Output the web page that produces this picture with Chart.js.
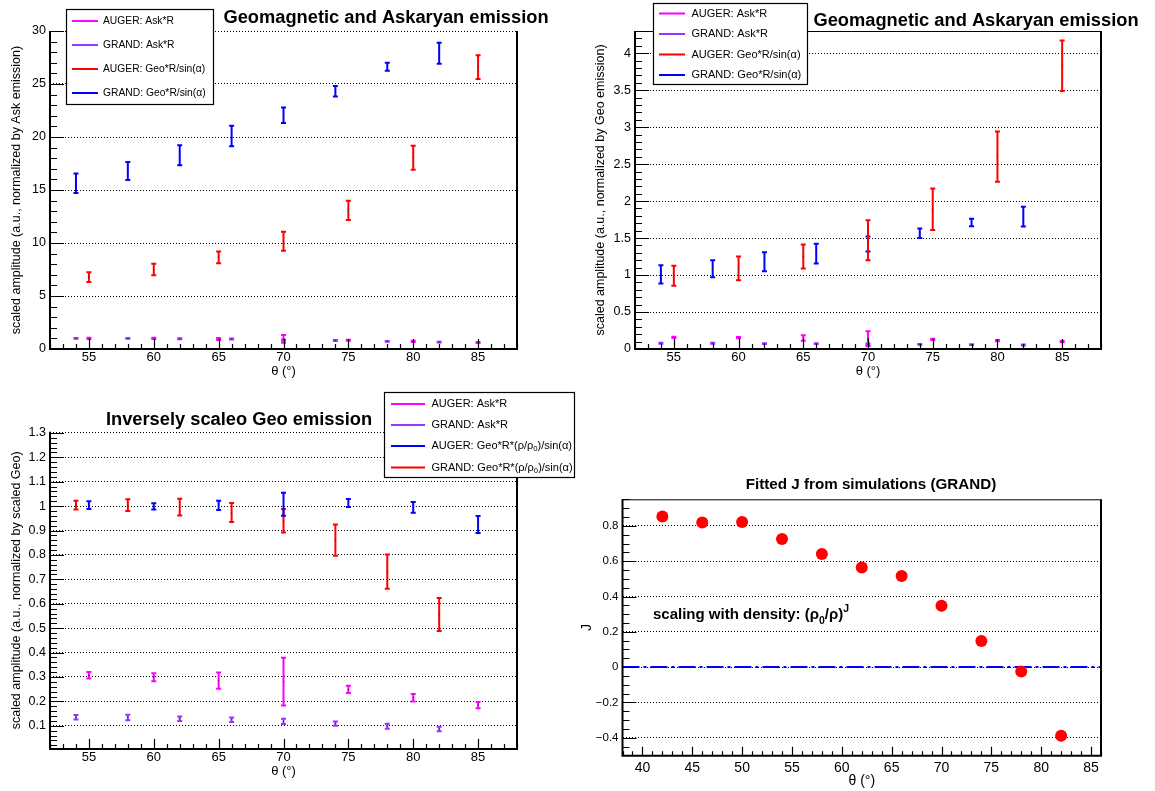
<!DOCTYPE html>
<html>
<head>
<meta charset="utf-8">
<script src="https://cdn.jsdelivr.net/npm/chart.js@4.4.0/dist/chart.umd.min.js"></script>
<style>
html, body { margin: 0; padding: 0; background: #fff; }
body { width: 1155px; height: 791px; position: relative; overflow: hidden; }
canvas { position: absolute; }
</style>
</head>
<body>
<canvas id="c1" width="577" height="385" style="left:0px;top:0px"></canvas>
<canvas id="c2" width="577" height="385" style="left:578px;top:0px"></canvas>
<canvas id="c3" width="577" height="406" style="left:0px;top:385px"></canvas>
<canvas id="c4" width="577" height="406" style="left:578px;top:385px"></canvas>
<script>
// zenith angles
const thetaAuger = [55, 60, 65, 70, 75, 80, 85];
const thetaGrand = [54, 58, 62, 66, 70, 74, 78, 82];
const thetaFit = [42, 46, 50, 54, 58, 62, 66, 70, 74, 78, 82];

// panel 1 : normalized by Ask emission
const askAugerP1 = [1.00, 1.00, 0.94, 0.95, 0.82, 0.73, 0.62];
const askAugerP1Err = [0.05, 0.05, 0.10, 0.36, 0.05, 0.06, 0.05];
const askGrandP1 = [1.00, 1.00, 0.97, 0.94, 0.85, 0.80, 0.72, 0.65];
const askGrandP1Err = [0.04, 0.04, 0.04, 0.04, 0.05, 0.04, 0.04, 0.04];
const geoAugerP1 = [6.78, 7.50, 8.65, 10.17, 13.08, 18.05, 26.60];
const geoAugerP1Err = [0.45, 0.54, 0.55, 0.90, 0.91, 1.13, 1.12];
const geoGrandP1 = [15.63, 16.80, 18.28, 20.09, 22.06, 24.32, 26.62, 27.90];
const geoGrandP1Err = [0.92, 0.85, 0.95, 0.96, 0.73, 0.49, 0.38, 1.00];

// panel 2 : normalized by Geo emission
const askAugerP2 = [0.158, 0.153, 0.149, 0.140, 0.131, 0.113, 0.099];
const askAugerP2Err = [0.008, 0.008, 0.037, 0.100, 0.008, 0.008, 0.008];
const askGrandP2 = [0.077, 0.077, 0.072, 0.072, 0.068, 0.063, 0.059, 0.054];
const askGrandP2Err = [0.006, 0.006, 0.006, 0.006, 0.006, 0.006, 0.006, 0.006];
const geoAugerP2 = [0.99, 1.09, 1.25, 1.47, 1.89, 2.60, 3.83];
const geoAugerP2Err = [0.135, 0.160, 0.163, 0.270, 0.280, 0.340, 0.340];
const geoGrandP2 = [1.01, 1.085, 1.18, 1.29, 1.42, 1.565, 1.71, 1.79];
const geoGrandP2Err = [0.124, 0.115, 0.127, 0.133, 0.100, 0.063, 0.050, 0.135];

// panel 3 : inversely scaled Geo
const askAugerP3 = [0.307, 0.299, 0.285, 0.281, 0.249, 0.215, 0.185];
const askAugerP3Err = [0.013, 0.016, 0.033, 0.098, 0.015, 0.015, 0.013];
const askGrandP3 = [0.135, 0.134, 0.129, 0.125, 0.118, 0.109, 0.098, 0.087];
const askGrandP3Err = [0.009, 0.011, 0.009, 0.009, 0.011, 0.009, 0.010, 0.009];
const geoAugerP3 = [1.004, 0.999, 1.003, 1.008, 1.013, 0.995, 0.925];
const geoAugerP3Err = [0.016, 0.013, 0.019, 0.047, 0.016, 0.022, 0.035];
const geoGrandP3 = [1.004, 1.004, 0.996, 0.974, 0.940, 0.861, 0.732, 0.556];
const geoGrandP3Err = [0.018, 0.024, 0.034, 0.039, 0.048, 0.064, 0.070, 0.068];

// panel 4 : fitted J
const fittedJ = [0.853, 0.819, 0.823, 0.726, 0.641, 0.564, 0.517, 0.348, 0.148, -0.025, -0.389];
const zeroLineX = [38, 86];
const zeroLineY = [0, 0];

// legends / titles
const legendP1 = ['AUGER: Ask*R', 'GRAND: Ask*R', 'AUGER: Geo*R/sin(α)', 'GRAND: Geo*R/sin(α)'];
const legendP3 = ['AUGER: Ask*R', 'GRAND: Ask*R', 'AUGER: Geo*R*(ρ/ρ_{0})/sin(α)', 'GRAND: Geo*R*(ρ/ρ_{0})/sin(α)'];

const MAGENTA = '#ff00ff';
const VIOLET = '#9933ff';
const RED = '#ff0000';
const BLUE = '#0000ff';

Chart.defaults.font.family = '"Liberation Sans", Arial, Helvetica, sans-serif';
Chart.defaults.color = '#000';

function errSeries(label, xs, ys, es, color) {
  return {
    label: label,
    data: xs.map((x, i) => ({x: x, y: ys[i]})),
    yErr: es,
    borderColor: color,
    backgroundColor: color,
    pointRadius: 0,
    showLine: false
  };
}

// text with ROOT style _{sub} and ^{sup}
function drawRich(ctx, str, x, y, size, bold, align) {
  const parts = str.split(/(_\{[^}]*\}|\^\{[^}]*\})/).filter(s => s.length);
  const w = bold ? 'bold ' : '';
  const fam = Chart.defaults.font.family;
  const segs = parts.map(p => {
    if (p.startsWith('_{')) return {t: p.slice(2, -1), s: size * 0.7, dy: size * 0.3};
    if (p.startsWith('^{')) return {t: p.slice(2, -1), s: size * 0.7, dy: -size * 0.45};
    return {t: p, s: size, dy: 0};
  });
  let total = 0;
  segs.forEach(sg => { ctx.font = w + sg.s + 'px ' + fam; sg.w = ctx.measureText(sg.t).width; total += sg.w; });
  let cx = align === 'center' ? x - total / 2 : x;
  ctx.textAlign = 'left';
  segs.forEach(sg => {
    ctx.font = w + sg.s + 'px ' + fam;
    ctx.fillText(sg.t, cx, y + sg.dy);
    cx += sg.w;
  });
}

const errorBars = {
  id: 'errorBars',
  afterDatasetsDraw(chart) {
    const ctx = chart.ctx;
    const xs = chart.scales.x, ys = chart.scales.y;
    ctx.save();
    for (let i = chart.data.datasets.length - 1; i >= 0; i--) {
      const ds = chart.data.datasets[i];
      if (!ds.yErr) continue;
      ds.data.forEach((p, j) => {
        const e = ds.yErr[j];
        const px = xs.getPixelForValue(p.x);
        const y1 = ys.getPixelForValue(p.y - e);
        const y2 = ys.getPixelForValue(p.y + e);
        const yc = ys.getPixelForValue(p.y);
        ctx.strokeStyle = ds.borderColor;
        ctx.lineWidth = 2;
        ctx.beginPath();
        ctx.moveTo(px, y1); ctx.lineTo(px, y2);
        ctx.moveTo(px - 2.5, y1); ctx.lineTo(px + 2.5, y1);
        ctx.moveTo(px - 2.5, y2); ctx.lineTo(px + 2.5, y2);
        ctx.stroke();
        ctx.fillStyle = '#222';
        ctx.fillRect(px - 0.5, yc - 0.5, 1, 1);
      });
    }
    ctx.restore();
  }
};

// ROOT like frame with inward ticks
const rootFrame = {
  id: 'rootFrame',
  afterDraw(chart, args, o) {
    const ctx = chart.ctx;
    const {left, right, top, bottom} = chart.chartArea;
    const xs = chart.scales.x, ys = chart.scales.y;
    ctx.save();
    ctx.strokeStyle = '#000';
    ctx.lineWidth = 1.2;
    ctx.beginPath();
    const eps = 1e-6;
    for (let k = Math.ceil(xs.min / o.xMinor - eps); k * o.xMinor <= xs.max + eps; k++) {
      const v = k * o.xMinor;
      const major = Math.abs(v / o.xMajor - Math.round(v / o.xMajor)) < 1e-6;
      const px = Math.round(xs.getPixelForValue(v)) + 0.5;
      ctx.moveTo(px, bottom);
      ctx.lineTo(px, bottom - (major ? o.xMajorLen : o.xMinorLen));
    }
    for (let k = Math.ceil(ys.min / o.yMinor - eps); k * o.yMinor <= ys.max + eps; k++) {
      const v = k * o.yMinor;
      const major = Math.abs(v / o.yMajor - Math.round(v / o.yMajor)) < 1e-6;
      const py = Math.round(ys.getPixelForValue(v)) + 0.5;
      ctx.moveTo(left, py);
      ctx.lineTo(left + (major ? o.yMajorLen : o.yMinorLen), py);
    }
    ctx.stroke();
    ctx.lineWidth = 2;
    ctx.beginPath();
    ctx.moveTo(left, top); ctx.lineTo(left, bottom); ctx.lineTo(right, bottom); ctx.lineTo(right, top);
    ctx.stroke();
    if (o.top) {
      ctx.lineWidth = 1;
      ctx.beginPath();
      ctx.moveTo(left, top + 0.5); ctx.lineTo(right, top + 0.5);
      ctx.stroke();
    }
    ctx.restore();
  }
};

// titles, legends, annotations
const rootText = {
  id: 'rootText',
  afterDraw(chart, args, o) {
    const ctx = chart.ctx;
    ctx.save();
    ctx.fillStyle = '#000';
    ctx.textBaseline = 'alphabetic';
    if (o.title) drawRich(ctx, o.title.text, o.title.x, o.title.y, o.title.size, true, 'center');
    if (o.note) drawRich(ctx, o.note.text, o.note.x, o.note.y, o.note.size, true, 'left');
    if (o.legend) {
      const L = o.legend;
      ctx.fillStyle = '#fff';
      ctx.fillRect(L.box[0], L.box[1], L.box[2] - L.box[0], L.box[3] - L.box[1]);
      ctx.strokeStyle = '#000';
      ctx.lineWidth = 1.2;
      ctx.strokeRect(L.box[0] + 0.5, L.box[1] + 0.5, L.box[2] - L.box[0], L.box[3] - L.box[1]);
      L.labels.forEach((lab, i) => {
        const y = L.rows[i];
        ctx.strokeStyle = L.colors[i];
        ctx.lineWidth = L.lineW;
        ctx.beginPath();
        ctx.moveTo(L.line[0], y); ctx.lineTo(L.line[1], y);
        ctx.stroke();
        ctx.fillStyle = '#000';
        ctx.textBaseline = 'middle';
        drawRich(ctx, lab, L.textX, y, L.size, false, 'left');
      });
    }
    ctx.restore();
  }
};

function fmt(v) {
  return String(parseFloat(v.toFixed(3))).replace('-', '\u2212');
}

// ticks only on multiples of the step, ROOT style
function stepTicks(step) {
  return scale => {
    const out = [];
    for (let k = Math.ceil(scale.min / step - 1e-6); k * step <= scale.max + 1e-6; k++) {
      out.push({value: parseFloat((k * step).toFixed(4))});
    }
    scale.ticks = out;
  };
}

function makeOptions(c) {
  return {
    responsive: false,
    animation: false,
    events: [],
    layout: {padding: {left: 0, top: c.top, right: c.right, bottom: 0}},
    plugins: {
      legend: {display: false},
      title: {display: false},
      tooltip: {enabled: false},
      rootFrame: c.frame,
      rootText: c.text
    },
    scales: {
      x: {
        type: 'linear', min: c.xMin, max: c.xMax,
        afterBuildTicks: stepTicks(5),
        afterFit: s => { s.height = c.xH; },
        grid: {display: false, drawTicks: false},
        border: {display: false},
        ticks: {padding: c.xTickPad, maxRotation: 0, autoSkip: false,
                font: {size: c.xTickSize}, color: '#000', callback: fmt},
        title: {display: true, text: 'θ (°)', color: '#000', font: {size: c.xTitleSize},
                padding: {top: 0, bottom: c.xTitlePad}}
      },
      y: {
        type: 'linear', min: c.yMin, max: c.yMax,
        afterBuildTicks: stepTicks(c.yStep),
        afterFit: s => { s.width = c.yW; },
        grid: {color: '#000', lineWidth: 1, drawTicks: false},
        border: {display: false, dash: [1, 2]},
        ticks: {padding: 4, autoSkip: false,
                font: {size: c.yTickSize}, color: '#000', callback: fmt},
        title: {display: true, text: c.yTitle, color: '#000', font: {size: c.yTitleSize},
                padding: {top: c.yTitlePad, bottom: 0}}
      }
    }
  };
}

// panel 1
new Chart(document.getElementById('c1'), {
  type: 'scatter',
  data: {datasets: [
    errSeries(legendP1[0], thetaAuger, askAugerP1, askAugerP1Err, MAGENTA),
    errSeries(legendP1[1], thetaGrand, askGrandP1, askGrandP1Err, VIOLET),
    errSeries(legendP1[2], thetaAuger, geoAugerP1, geoAugerP1Err, RED),
    errSeries(legendP1[3], thetaGrand, geoGrandP1, geoGrandP1Err, BLUE)
  ]},
  options: makeOptions({
    top: 31, right: 60, xH: 36, yW: 50,
    xMin: 52, xMax: 88, yMin: 0, yMax: 30, yStep: 5,
    xTickPad: 1, xTickSize: 13, xTitleSize: 13, xTitlePad: 6,
    yTickSize: 12.5, yTitleSize: 12.5, yTitlePad: 9,
    yTitle: 'scaled amplitude (a.u., normalized by Ask emission)',
    frame: {xMinor: 1, xMajor: 5, yMinor: 1, yMajor: 5, xMajorLen: 10, xMinorLen: 5, yMajorLen: 14, yMinorLen: 7, top: false},
    text: {
      title: {text: 'Geomagnetic and Askaryan emission', x: 386, y: 23, size: 18.3},
      legend: {box: [66, 9, 213, 104], rows: [21, 45, 69, 93], line: [72, 98], textX: 103, size: 10.3, lineW: 2,
               labels: legendP1, colors: [MAGENTA, VIOLET, RED, BLUE]}
    }
  }),
  plugins: [errorBars, rootFrame, rootText]
});

// panel 2
new Chart(document.getElementById('c2'), {
  type: 'scatter',
  data: {datasets: [
    errSeries(legendP1[0], thetaAuger, askAugerP2, askAugerP2Err, MAGENTA),
    errSeries(legendP1[1], thetaGrand, askGrandP2, askGrandP2Err, VIOLET),
    errSeries(legendP1[2], thetaAuger, geoAugerP2, geoAugerP2Err, RED),
    errSeries(legendP1[3], thetaGrand, geoGrandP2, geoGrandP2Err, BLUE)
  ]},
  options: makeOptions({
    top: 31, right: 54, xH: 36, yW: 57,
    xMin: 52, xMax: 88, yMin: 0, yMax: 4.3, yStep: 0.5,
    xTickPad: 1, xTickSize: 13, xTitleSize: 13, xTitlePad: 6,
    yTickSize: 12.5, yTitleSize: 12.5, yTitlePad: 15,
    yTitle: 'scaled amplitude (a.u., normalized by Geo emission)',
    frame: {xMinor: 1, xMajor: 5, yMinor: 0.1, yMajor: 0.5, xMajorLen: 10, xMinorLen: 5, yMajorLen: 14, yMinorLen: 7, top: true},
    text: {
      title: {text: 'Geomagnetic and Askaryan emission', x: 398, y: 25.5, size: 18.3},
      legend: {box: [75, 3, 229, 84], rows: [13.5, 34, 54.5, 75], line: [81, 107], textX: 113.5, size: 11, lineW: 2,
               labels: legendP1, colors: [MAGENTA, VIOLET, RED, BLUE]}
    }
  }),
  plugins: [errorBars, rootFrame, rootText]
});

// panel 3
new Chart(document.getElementById('c3'), {
  type: 'scatter',
  data: {datasets: [
    errSeries(legendP3[0], thetaAuger, askAugerP3, askAugerP3Err, MAGENTA),
    errSeries(legendP3[1], thetaGrand, askGrandP3, askGrandP3Err, VIOLET),
    errSeries(legendP3[2], thetaAuger, geoAugerP3, geoAugerP3Err, BLUE),
    errSeries(legendP3[3], thetaGrand, geoGrandP3, geoGrandP3Err, RED)
  ]},
  options: makeOptions({
    top: 46.7, right: 60, xH: 42, yW: 50,
    xMin: 52, xMax: 88, yMin: 0.005, yMax: 1.305, yStep: 0.1,
    xTickPad: 1, xTickSize: 13, xTitleSize: 13, xTitlePad: 12,
    yTickSize: 12.5, yTitleSize: 12.5, yTitlePad: 9,
    yTitle: 'scaled amplitude (a.u., normalized by scaled Geo)',
    frame: {xMinor: 1, xMajor: 5, yMinor: 0.02, yMajor: 0.1, xMajorLen: 10, xMinorLen: 5, yMajorLen: 14, yMinorLen: 7, top: false},
    text: {
      title: {text: 'Inversely scaleo Geo emission', x: 239, y: 39.5, size: 18.3},
      legend: {box: [384, 7, 574, 92], rows: [19, 40, 61, 82.5], line: [391, 425], textX: 431.5, size: 11, lineW: 2.2,
               labels: legendP3, colors: [MAGENTA, VIOLET, BLUE, RED]}
    }
  }),
  plugins: [errorBars, rootFrame, rootText]
});

// panel 4
const opt4 = makeOptions({
  top: 114.3, right: 54, xH: 35.3, yW: 44.5,
  xMin: 38, xMax: 86, yMin: -0.502, yMax: 0.951, yStep: 0.2,
  xTickPad: 4, xTickSize: 14, xTitleSize: 14, xTitlePad: 1,
  yTickSize: 11.5, yTitleSize: 14, yTitlePad: 1,
  yTitle: 'J',
  frame: {xMinor: 1, xMajor: 5, yMinor: 0.05, yMajor: 0.2, xMajorLen: 9, xMinorLen: 4.5, yMajorLen: 14, yMinorLen: 7, top: true},
  text: {
    title: {text: 'Fitted J from simulations (GRAND)', x: 293, y: 104.3, size: 15.2},
    note: {text: 'scaling with density: (ρ_{0}/ρ)^{J}', x: 75, y: 234, size: 15}
  }
});
new Chart(document.getElementById('c4'), {
  type: 'scatter',
  data: {datasets: [
    {
      label: 'J',
      data: thetaFit.map((x, i) => ({x: x, y: fittedJ[i]})),
      pointRadius: 6,
      pointStyle: 'circle',
      pointBackgroundColor: RED,
      pointBorderWidth: 0,
      showLine: false
    },
    {
      type: 'line',
      label: 'zero',
      data: zeroLineX.map((x, i) => ({x: x, y: zeroLineY[i]})),
      borderColor: BLUE,
      borderWidth: 2,
      borderDash: [17, 4, 3, 4],
      pointRadius: 0,
      fill: false
    }
  ]},
  options: opt4,
  plugins: [rootFrame, rootText]
});
</script>
</body>
</html>
